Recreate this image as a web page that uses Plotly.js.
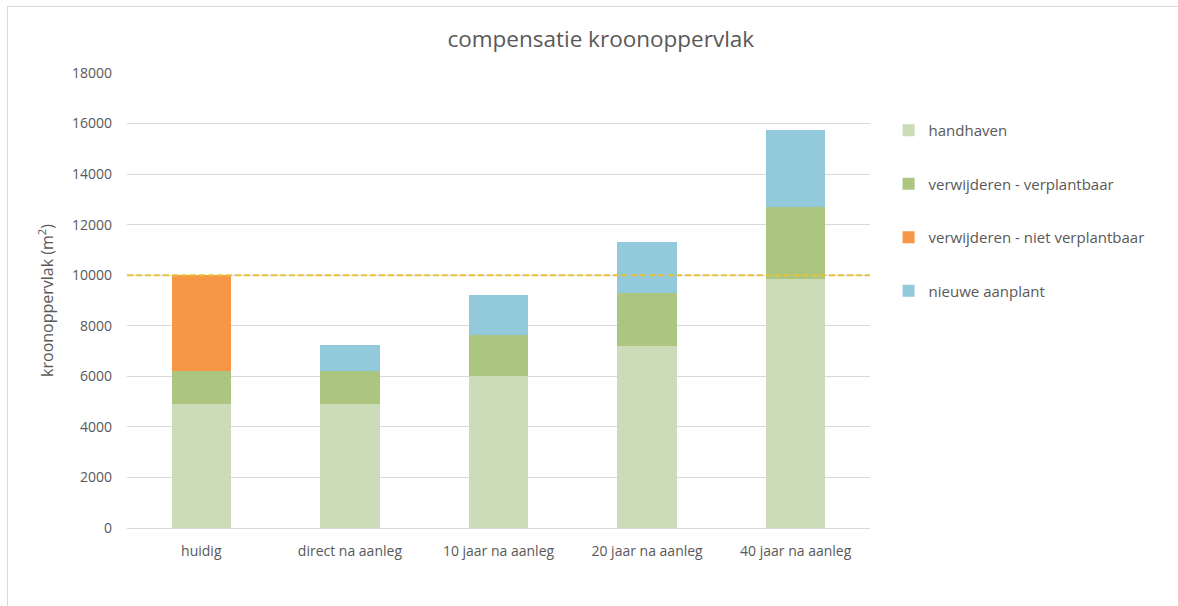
<!DOCTYPE html>
<html>
<head>
<meta charset="utf-8">
<script src="https://cdn.plot.ly/plotly-3.0.1.min.js"></script>
<style>
  html, body { margin: 0; padding: 0; background: #ffffff; }
  #frame { position: absolute; left: 7px; top: 6px; width: 1200px; height: 620px; border-left: 1px solid #d9d9d9; border-top: 1px solid #d9d9d9; }
  #chart { position: absolute; left: 0; top: 0; width: 1178px; height: 606px; }
</style>
</head>
<body>
<div id="frame"></div>
<div id="chart"></div>
<script>
const categories = ["huidig", "direct na aanleg", "10 jaar na aanleg", "20 jaar na aanleg", "40 jaar na aanleg"];
const handhaven = [4900, 4900, 6000, 7200, 9850];
const verplantbaar = [1300, 1300, 1650, 2100, 2850];
const nietVerplantbaar = [3800, 0, 0, 0, 0];
const nieuweAanplant = [0, 1050, 1550, 2000, 3050];
const referentie = 10000;
const yTicks = [0, 2000, 4000, 6000, 8000, 10000, 12000, 14000, 16000, 18000];

const font = "Open Sans, sans-serif";
const grey = "#595959";

function bar(name, y, color, group) {
  return {
    type: "bar", name: name, x: categories, y: y,
    marker: { color: color, line: { width: 0 } },
    legendgroup: group, hoverinfo: "y+name"
  };
}

const data = [
  bar("handhaven", handhaven, "#CCDBB8", "a"),
  bar("verwijderen - verplantbaar", verplantbaar, "#ACC580", "b"),
  bar("verwijderen - niet verplantbaar", nietVerplantbaar, "#F79646", "c"),
  bar("nieuwe aanplant", nieuweAanplant, "#92CADC", "d")
];

const layout = {
  width: 1178, height: 606,
  barmode: "stack", bargap: 0.6,
  paper_bgcolor: "rgba(0,0,0,0)", plot_bgcolor: "rgba(0,0,0,0)",
  margin: { l: 127, r: 308, t: 73, b: 78 },
  font: { family: font, color: grey, size: 14 },
  title: { text: "compensatie kroonoppervlak", font: { family: font, size: 22.5, color: grey }, x: 0.51, xref: "container", y: 0.935, yref: "container", yanchor: "middle" },
  xaxis: { type: "category", tickfont: { size: 14, color: grey }, showgrid: false, zeroline: false, showline: true, linecolor: "#d9d9d9", linewidth: 1, ticks: "", ticklen: 0, ticklabelstandoff: 10 },
  yaxis: {
    range: [0, 18000], tickvals: yTicks, ticktext: yTicks.map(String),
    tickfont: { size: 14, color: grey }, showgrid: true, gridcolor: "#d9d9d9", gridwidth: 1,
    zeroline: false, showline: false, ticks: "", ticklabelstandoff: 14,
    title: { text: "kroonoppervlak (m<sup>2</sup>)", font: { size: 16, color: grey }, standoff: 14 }
  },
  legend: {
    x: 1.025, xanchor: "left", y: 0.91, yanchor: "top",
    font: { size: 15, color: grey }, tracegroupgap: 31, traceorder: "grouped",
    itemwidth: 30
  },
  shapes: [{
    type: "line", xref: "paper", yref: "y", x0: 0, x1: 1, y0: referentie, y1: referentie,
    line: { color: "#E8C13A", width: 2, dash: "6px,3px" }
  }]
};

Plotly.newPlot("chart", data, layout, { displayModeBar: false, staticPlot: true });
</script>
</body>
</html>
